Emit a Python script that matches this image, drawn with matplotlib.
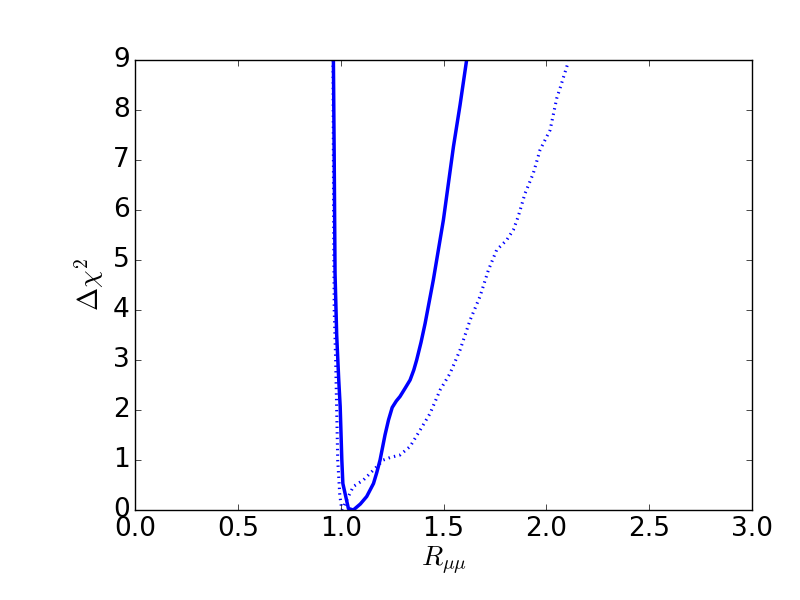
import matplotlib
matplotlib.use("Agg")
import matplotlib.pyplot as plt

plt.style.use('classic')

# Solid curve (R_mumu, delta chi^2)
solid_x = [0.964, 0.968, 0.972, 0.980, 0.990, 0.997, 1.005, 1.010, 1.037, 1.061,
           1.095, 1.126, 1.159, 1.175, 1.191, 1.215, 1.232, 1.250, 1.270, 1.288,
           1.315, 1.337, 1.355, 1.369, 1.390, 1.410, 1.450, 1.499, 1.548, 1.580, 1.612]
solid_y = [9.0, 7.0, 4.73, 3.5, 2.6, 2.07, 1.0, 0.53, 0.03, 0.0,
           0.12, 0.27, 0.53, 0.75, 1.0, 1.5, 1.8, 2.05, 2.18, 2.27,
           2.45, 2.6, 2.8, 3.0, 3.35, 3.73, 4.6, 5.8, 7.27, 8.1, 9.0]

# Dotted curve
dot_x = [0.962, 0.965, 0.968, 0.975, 0.980, 0.985, 0.995, 1.005, 1.021, 1.037,
         1.061, 1.110, 1.159, 1.207, 1.240, 1.288, 1.337, 1.386, 1.434, 1.483,
         1.531, 1.580, 1.629, 1.677, 1.718, 1.758, 1.807, 1.839, 1.863, 1.896,
         1.936, 1.969, 2.018, 2.050, 2.066, 2.107]
dot_y = [9.0, 6.0, 4.0, 3.0, 2.0, 1.0, 0.3, 0.0, 0.13, 0.27,
         0.47, 0.6, 0.8, 1.0, 1.05, 1.1, 1.27, 1.6, 1.93, 2.4,
         2.73, 3.2, 3.8, 4.27, 4.8, 5.2, 5.4, 5.6, 5.87, 6.33,
         6.73, 7.2, 7.6, 8.23, 8.43, 8.97]

x_ticks = [0.0, 0.5, 1.0, 1.5, 2.0, 2.5, 3.0]
y_ticks = [0, 1, 2, 3, 4, 5, 6, 7, 8, 9]

fig = plt.figure(figsize=(8, 6), dpi=100, facecolor='white')
ax = fig.add_axes([0.169, 0.15, 0.771, 0.75])
ax.plot(solid_x, solid_y, color='b', linestyle='-', linewidth=2.5)
ax.plot(dot_x, dot_y, color='b', linestyle=':', linewidth=2.2)
ax.set_xlim(0, 3)
ax.set_ylim(0, 9)
ax.set_xticks(x_ticks)
ax.set_yticks(y_ticks)
ax.tick_params(labelsize=19)
ax.set_xlabel(r'$R_{\mu\mu}$', fontsize=20, labelpad=2)
ax.set_ylabel(r'$\Delta\chi^2$', fontsize=20)
fig.savefig('out.png', dpi=100, facecolor='white')
